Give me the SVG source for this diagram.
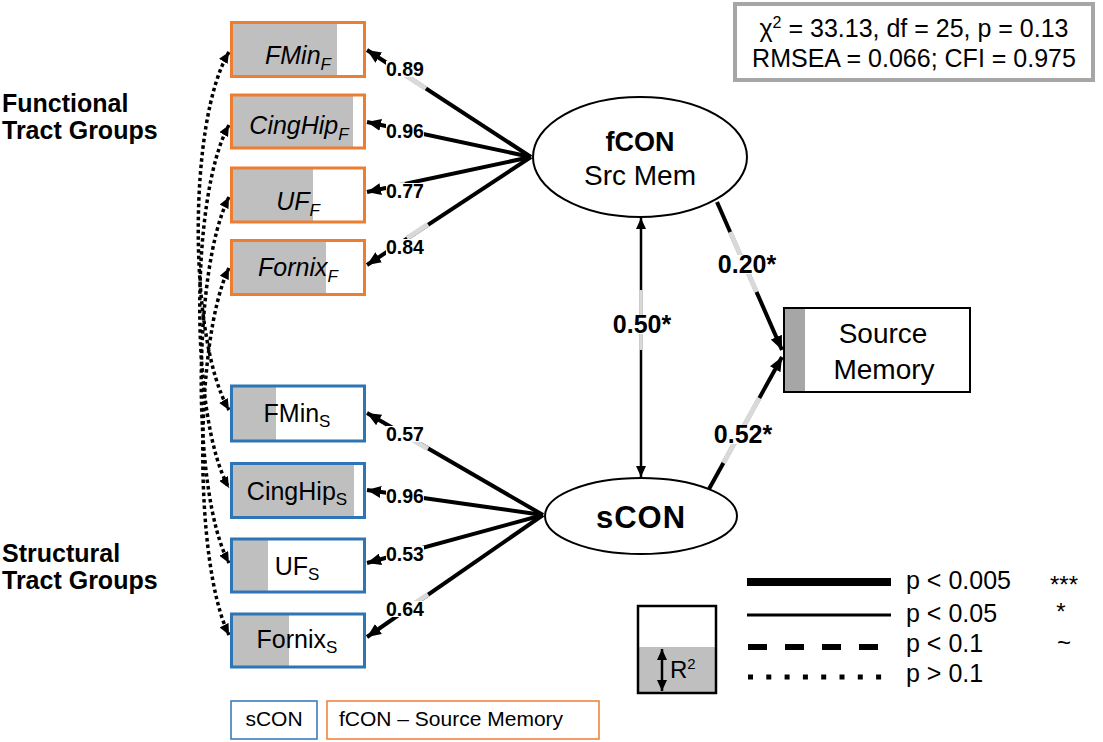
<svg xmlns="http://www.w3.org/2000/svg" width="1103" height="742" viewBox="0 0 1103 742">
<defs>
<style>
text{font-family:"Liberation Sans",Arial,sans-serif;fill:#000}
.lbl{font-size:19.5px;font-weight:bold;text-anchor:middle}
.big{font-size:25px;font-weight:bold;text-anchor:middle}
.bg{fill:#fff}
.box{font-size:25px;text-anchor:middle}
.it{font-style:italic}
.sub{font-size:17px}
.of{fill:none;stroke:#ED7D31;stroke-width:3}
.ob{fill:none;stroke:#2E75B6;stroke-width:3}
.gr{fill:#bfbfbf}
.ld{fill:none;stroke:#000;stroke-width:4;marker-end:url(#ah)}
.hl{fill:none;stroke:#d9d9d9;stroke-width:5}
.dot{fill:none;stroke:#000;stroke-width:3.5;stroke-dasharray:3.5 3;marker-start:url(#sh);marker-end:url(#sh)}
.grp{font-size:25px;font-weight:bold}
.leg{font-size:25px}
</style>
<marker id="ah" markerUnits="userSpaceOnUse" viewBox="0 0 14 12" refX="14" refY="6" markerWidth="14" markerHeight="12" orient="auto"><path d="M0,0L14,6L0,12z" fill="#000"/></marker>
<marker id="sh" markerUnits="userSpaceOnUse" viewBox="0 0 11 10" refX="11" refY="5" markerWidth="11" markerHeight="10" orient="auto-start-reverse"><path d="M0,0L11,5L0,10z" fill="#000"/></marker>
<marker id="vh" markerUnits="userSpaceOnUse" viewBox="0 0 11 10" refX="11" refY="5" markerWidth="11" markerHeight="10" orient="auto-start-reverse"><path d="M0,0L11,5L0,10z" fill="#000"/></marker>
</defs>
<rect width="1103" height="742" fill="#fff"/>

<g id="group-labels">
<text class="grp" x="2" y="112">Functional</text>
<text class="grp" x="2" y="139">Tract Groups</text>
<text class="grp" x="2" y="562">Structural</text>
<text class="grp" x="2" y="589">Tract Groups</text>
</g>

<g id="fit-stats">
<rect x="735" y="4" width="358" height="76" fill="#fff" stroke="#a6a6a6" stroke-width="4"/>
<text class="leg" x="914" y="37" text-anchor="middle">χ<tspan font-size="16" dy="-9">2</tspan><tspan dy="9"> = 33.13, df = 25, p = 0.13</tspan></text>
<text class="leg" x="914" y="67" text-anchor="middle">RMSEA = 0.066; CFI = 0.975</text>
</g>

<g id="connectors">
<path class="dot" d="M229,52 C188,120 188,340 229,410"/>
<path class="dot" d="M229,125 C190,195 190,420 229,488"/>
<path class="dot" d="M229,197 C192,270 192,495 229,563"/>
<path class="dot" d="M229,268 C194,340 194,565 229,635"/>
<path class="ld" d="M531,157 L367,50"/>
<path class="ld" d="M531,157 L367,122"/>
<path class="ld" d="M531,157 L367,192"/>
<path class="ld" d="M531,157 L367,265"/>
<line class="hl" x1="400" y1="71.6" x2="426" y2="88.5"/>
<line class="hl" x1="388" y1="187.5" x2="405" y2="184"/>
<line class="hl" x1="407" y1="238.2" x2="428" y2="224.4"/>
<path class="ld" d="M543,515 L367,413"/>
<path class="ld" d="M543,515 L367,490"/>
<path class="ld" d="M543,515 L367,563"/>
<path class="ld" d="M543,515 L367,637"/>
<line class="hl" x1="413" y1="440.1" x2="428" y2="448.8"/>
<line class="hl" x1="410" y1="606.6" x2="428" y2="594.2"/>
<path class="ld" d="M717,202 L782,350"/>
<line class="hl" x1="730.2" y1="232" x2="756.5" y2="292"/>
<path class="ld" d="M709,489 L782,357"/>
<line class="hl" x1="723.4" y1="463" x2="759.4" y2="398"/>
<line x1="641" y1="218" x2="641" y2="477" stroke="#000" stroke-width="2.5" marker-start="url(#vh)" marker-end="url(#vh)"/>
<line x1="641" y1="290" x2="641" y2="350" stroke="#d9d9d9" stroke-width="3"/>
<rect class="bg" x="386" y="61" width="38" height="16"/>
<rect class="bg" x="386" y="123" width="38" height="16"/>
<rect class="bg" x="386" y="183" width="38" height="16"/>
<rect class="bg" x="386" y="239" width="38" height="16"/>
<rect class="bg" x="386" y="426" width="38" height="16"/>
<rect class="bg" x="386" y="488" width="38" height="16"/>
<rect class="bg" x="386" y="546" width="38" height="16"/>
<rect class="bg" x="386" y="601" width="38" height="16"/>
<rect class="bg" x="718" y="255" width="58" height="19"/>
<rect class="bg" x="714" y="425" width="58" height="19"/>
<rect class="bg" x="613" y="315" width="58" height="19"/>
<text class="lbl" x="405" y="76">0.89</text>
<text class="lbl" x="405" y="138">0.96</text>
<text class="lbl" x="405" y="198">0.77</text>
<text class="lbl" x="405" y="254">0.84</text>
<text class="lbl" x="405" y="441">0.57</text>
<text class="lbl" x="405" y="503">0.96</text>
<text class="lbl" x="405" y="561">0.53</text>
<text class="lbl" x="405" y="616">0.64</text>
<text class="big" x="747" y="273">0.20*</text>
<text class="big" x="743" y="443">0.52*</text>
<text class="big" x="642" y="333">0.50*</text>
</g>

<g id="FMin_F">
<rect x="231.5" y="22.5" width="133" height="54" fill="#fff"/>
<rect x="231.5" y="22.5" width="105.5" height="54" class="gr"/>
<rect x="231.5" y="22.5" width="133" height="54" class="of"/>
<text class="box it" x="298" y="64">FMin<tspan class="sub" dy="6">F</tspan></text>
</g>
<g id="CingHip_F">
<rect x="231.5" y="95" width="133" height="53" fill="#fff"/>
<rect x="231.5" y="95" width="121.5" height="53" class="gr"/>
<rect x="231.5" y="95" width="133" height="53" class="of"/>
<text class="box it" x="299" y="134">CingHip<tspan class="sub" dy="6">F</tspan></text>
</g>
<g id="UF_F">
<rect x="231.5" y="168" width="133" height="54" fill="#fff"/>
<rect x="231.5" y="168" width="81.5" height="54" class="gr"/>
<rect x="231.5" y="168" width="133" height="54" class="of"/>
<text class="box it" x="298" y="210">UF<tspan class="sub" dy="6">F</tspan></text>
</g>
<g id="Fornix_F">
<rect x="231.5" y="240.5" width="133" height="54" fill="#fff"/>
<rect x="231.5" y="240.5" width="94.5" height="54" class="gr"/>
<rect x="231.5" y="240.5" width="133" height="54" class="of"/>
<text class="box it" x="298" y="276">Fornix<tspan class="sub" dy="6">F</tspan></text>
</g>

<g id="FMin_S">
<rect x="231.5" y="386" width="133" height="55" fill="#fff"/>
<rect x="231.5" y="386" width="44.5" height="55" class="gr"/>
<rect x="231.5" y="386" width="133" height="55" class="ob"/>
<text class="box" x="297" y="422">FMin<tspan class="sub" dy="5">S</tspan></text>
</g>
<g id="CingHip_S">
<rect x="231.5" y="463.5" width="133" height="54" fill="#fff"/>
<rect x="231.5" y="463.5" width="122.5" height="54" class="gr"/>
<rect x="231.5" y="463.5" width="133" height="54" class="ob"/>
<text class="box" x="297" y="500">CingHip<tspan class="sub" dy="5">S</tspan></text>
</g>
<g id="UF_S">
<rect x="231.5" y="539" width="133" height="53" fill="#fff"/>
<rect x="231.5" y="539" width="36.5" height="53" class="gr"/>
<rect x="231.5" y="539" width="133" height="53" class="ob"/>
<text class="box" x="297" y="575">UF<tspan class="sub" dy="5">S</tspan></text>
</g>
<g id="Fornix_S">
<rect x="231.5" y="614" width="133" height="53" fill="#fff"/>
<rect x="231.5" y="614" width="57.5" height="53" class="gr"/>
<rect x="231.5" y="614" width="133" height="53" class="ob"/>
<text class="box" x="297" y="648">Fornix<tspan class="sub" dy="5">S</tspan></text>
</g>

<g id="fCON">
<ellipse cx="640" cy="157" rx="107" ry="60" fill="#fff" stroke="#000" stroke-width="2"/>
<text x="640" y="151" font-size="27" font-weight="bold" text-anchor="middle">fCON</text>
<text x="640" y="185" font-size="28" text-anchor="middle">Src Mem</text>
</g>

<g id="sCON">
<ellipse cx="641" cy="516" rx="96" ry="38" fill="#fff" stroke="#000" stroke-width="2"/>
<text x="641" y="528" font-size="31" font-weight="bold" text-anchor="middle" letter-spacing="1">sCON</text>
</g>

<g id="SourceMemory">
<rect x="784" y="308" width="186" height="84" fill="#fff" stroke="#000" stroke-width="2"/>
<rect x="785" y="309" width="20" height="82" fill="#a6a6a6"/>
<text x="883" y="343" font-size="28" text-anchor="middle">Source</text>
<text x="884" y="379" font-size="28" text-anchor="middle">Memory</text>
</g>

<g id="legend-r2">
<rect x="638" y="606" width="78" height="87" fill="#fff"/>
<rect x="638" y="647" width="78" height="46" fill="#bfbfbf"/>
<rect x="638" y="606" width="78" height="87" fill="none" stroke="#000" stroke-width="2.5"/>
<line x1="662" y1="649" x2="662" y2="691" stroke="#000" stroke-width="2.5" marker-start="url(#vh)" marker-end="url(#vh)"/>
<text x="670" y="678" font-size="24">R<tspan font-size="15" dy="-9">2</tspan></text>
</g>

<g id="legend-lines">
<line x1="747" y1="582" x2="891" y2="582" stroke="#000" stroke-width="8"/>
<line x1="747" y1="615" x2="891" y2="615" stroke="#000" stroke-width="3"/>
<line x1="748" y1="647" x2="884" y2="647" stroke="#000" stroke-width="6" stroke-dasharray="19 18"/>
<line x1="748" y1="677" x2="884" y2="677" stroke="#000" stroke-width="5" stroke-dasharray="5 13.3"/>
<text class="leg" x="906" y="589">p &lt; 0.005</text>
<text class="leg" x="906" y="622">p &lt; 0.05</text>
<text class="leg" x="906" y="652">p &lt; 0.1</text>
<text class="leg" x="906" y="682">p &gt; 0.1</text>
<text x="1064" y="593" font-size="24" text-anchor="middle">***</text>
<text x="1061" y="620" font-size="24" text-anchor="middle">*</text>
<text x="1064" y="651" font-size="24" text-anchor="middle">~</text>
</g>

<g id="legend-colors">
<rect x="231" y="701" width="86" height="38" fill="#fff" stroke="#2E75B6" stroke-width="1.5"/>
<text x="274" y="726" font-size="21" text-anchor="middle">sCON</text>
<rect x="327" y="701" width="272" height="38" fill="#fff" stroke="#ED7D31" stroke-width="1.5"/>
<text x="339" y="726" font-size="21">fCON – Source Memory</text>
</g>
</svg>
